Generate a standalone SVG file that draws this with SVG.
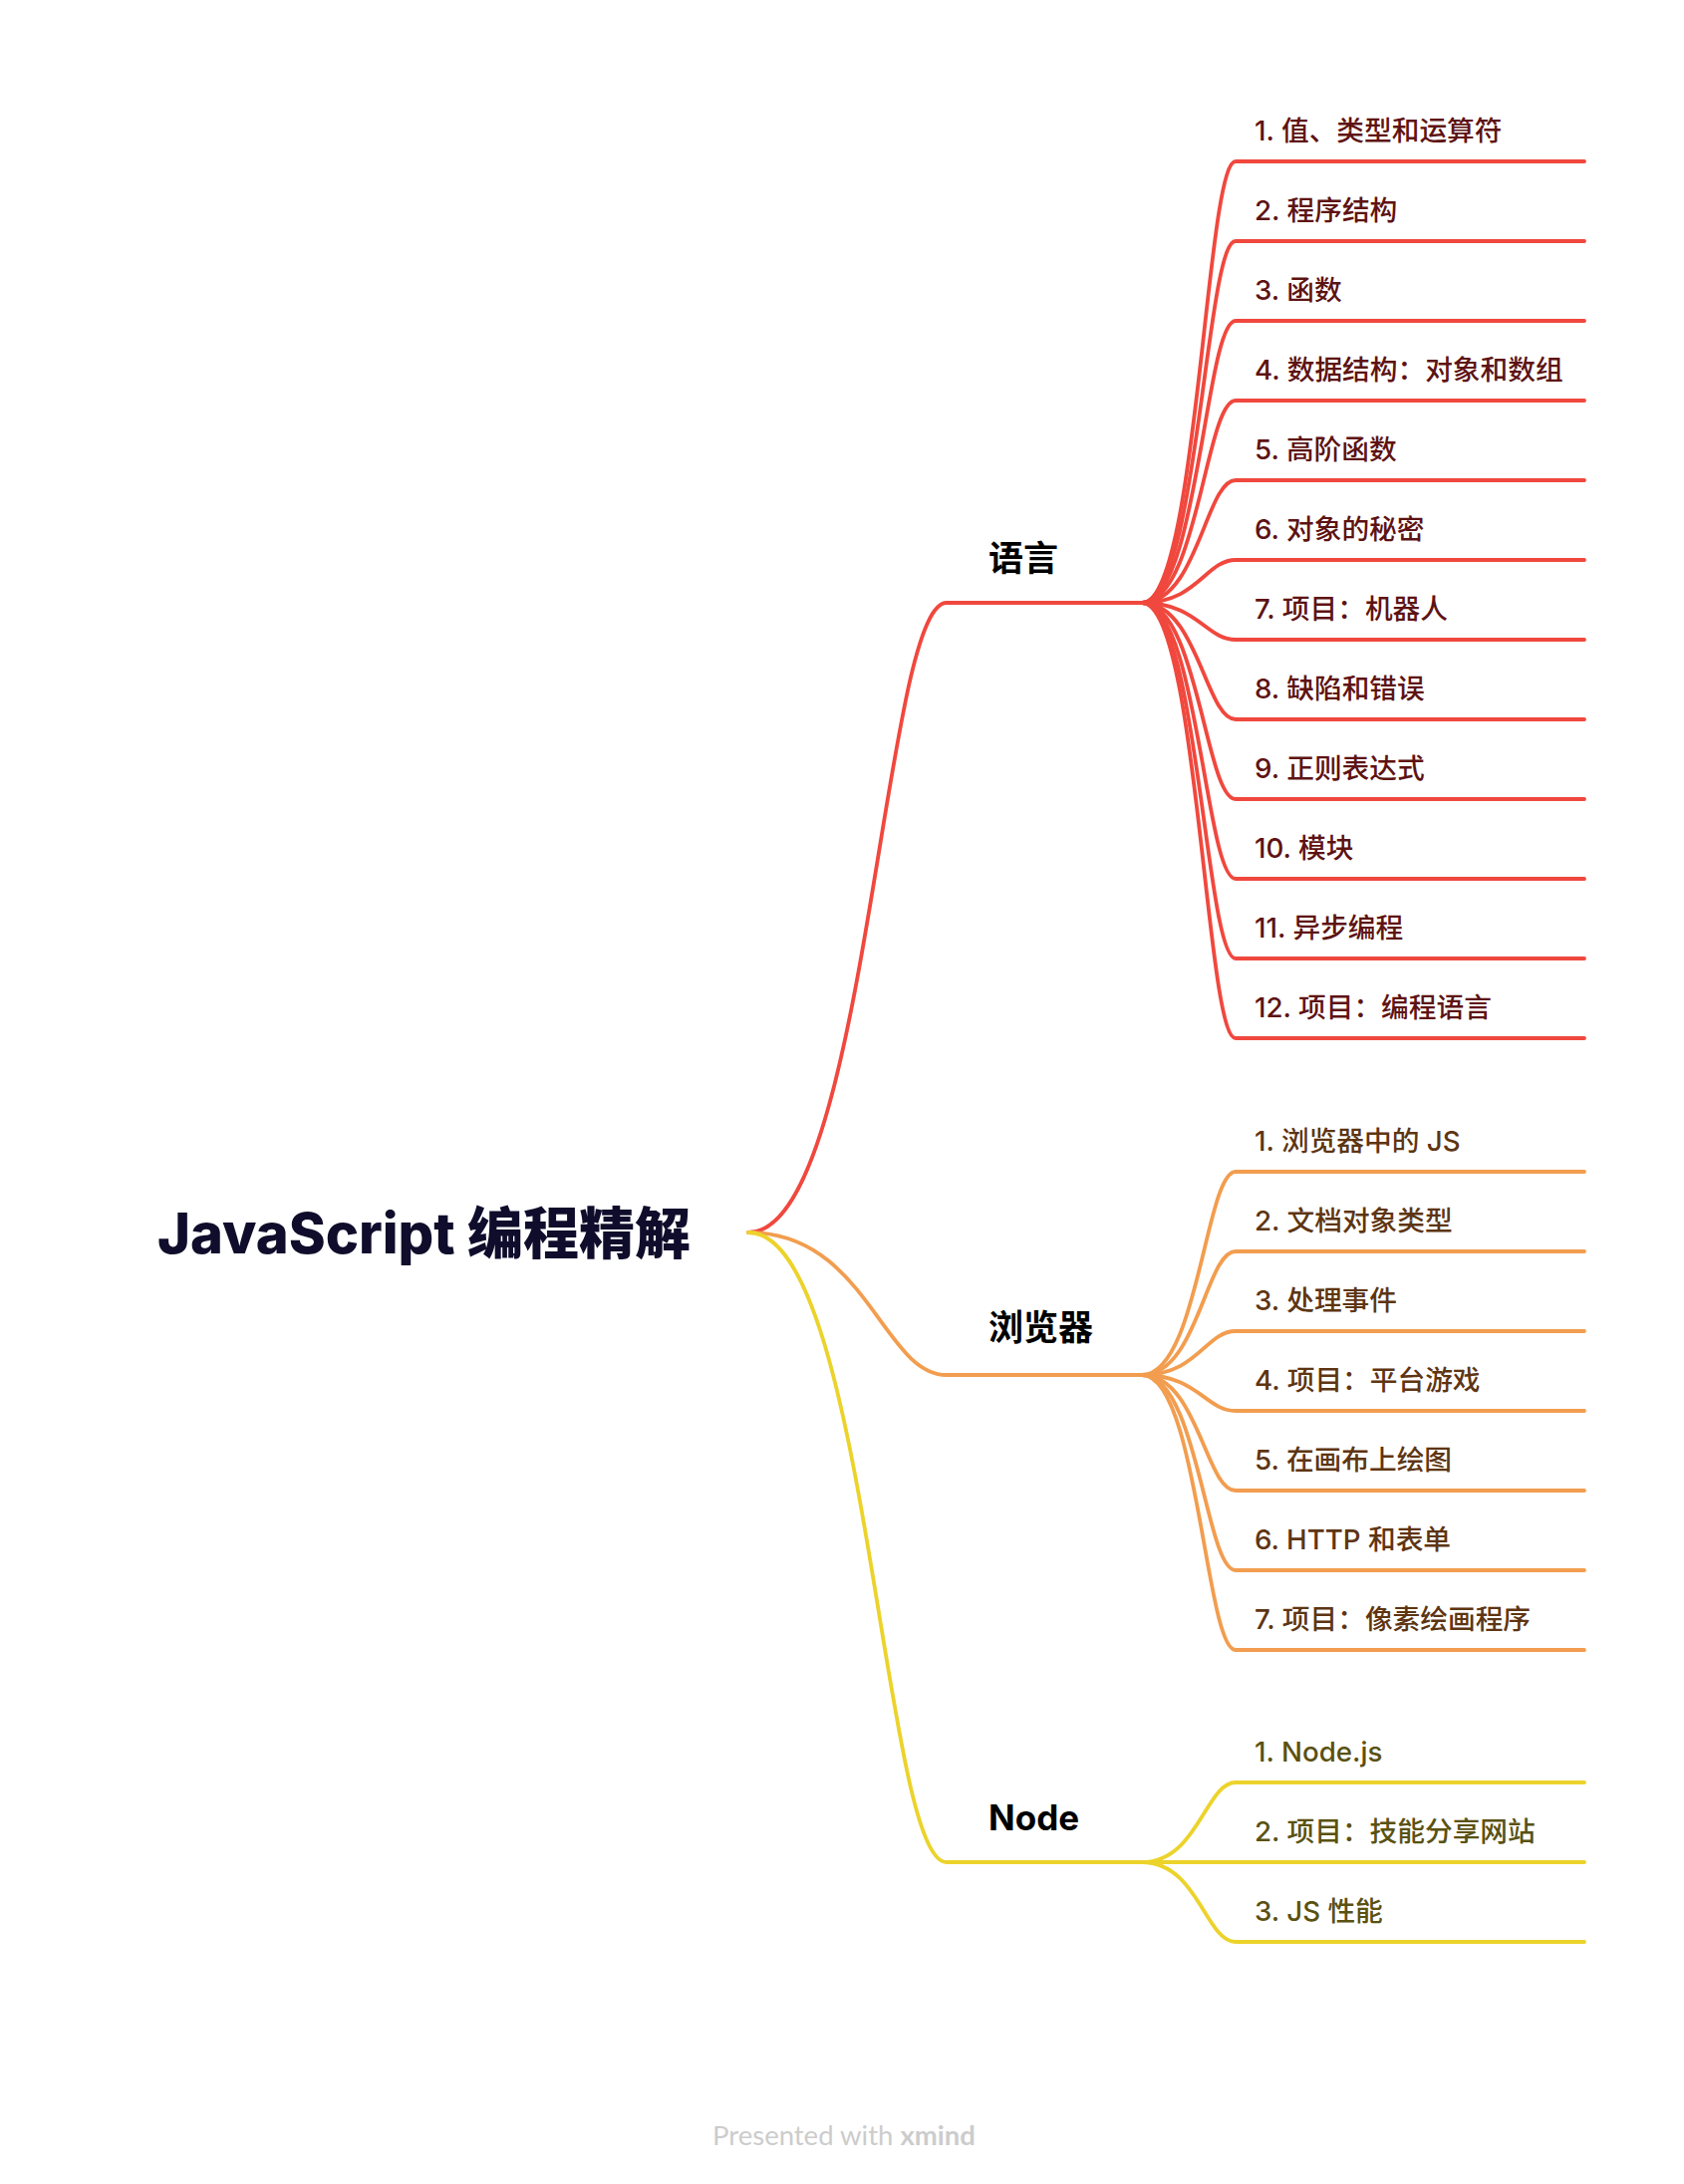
<svg xmlns="http://www.w3.org/2000/svg" width="1690" height="2192" viewBox="0 0 1690 2192">
<style>
text{font-family:"Inter","Noto Sans CJK SC",sans-serif}
.root{font-size:56px;font-weight:800;fill:#0f0d2b}
.br{font-size:35px;font-weight:700;fill:#000}
.lf{font-size:27.7px;font-weight:500}
.r{stroke:#f0483e}
.o{stroke:#f29d4f}
.y{stroke:#ecd32b}
.tr{fill:#5e1313}
.to{fill:#5e3512}
.ty{fill:#5a5112}
#connectors path{fill:none;stroke-width:3.8;stroke-linecap:round}
.wm{font-family:"Lato","Liberation Sans",sans-serif;font-size:27.5px;fill:#cccccc}
</style>
<rect width="1690" height="2192" fill="#ffffff"/>
<g id="connectors">
<path class="r" d="M751 1237 C870 1237 886 605 950 605 L1146 605"/>
<path class="o" d="M751 1237 C870 1237 886 1380 950 1380 L1146 1380"/>
<path class="y" d="M751 1237 C870 1237 886 1869 950 1869 L1146 1869"/>
<g id="lang-links">
<path class="r" d="M1146 605 C1202 605 1210 162 1240 162 L1590 162"/>
<path class="r" d="M1146 605 C1202 605 1210 242 1240 242 L1590 242"/>
<path class="r" d="M1146 605 C1202 605 1210 322 1240 322 L1590 322"/>
<path class="r" d="M1146 605 C1202 605 1210 402 1240 402 L1590 402"/>
<path class="r" d="M1146 605 C1202 605 1210 482 1240 482 L1590 482"/>
<path class="r" d="M1146 605 C1202 605 1210 562 1240 562 L1590 562"/>
<path class="r" d="M1146 605 C1202 605 1210 642 1240 642 L1590 642"/>
<path class="r" d="M1146 605 C1202 605 1210 722 1240 722 L1590 722"/>
<path class="r" d="M1146 605 C1202 605 1210 802 1240 802 L1590 802"/>
<path class="r" d="M1146 605 C1202 605 1210 882 1240 882 L1590 882"/>
<path class="r" d="M1146 605 C1202 605 1210 962 1240 962 L1590 962"/>
<path class="r" d="M1146 605 C1202 605 1210 1042 1240 1042 L1590 1042"/>
</g>
<g id="browser-links">
<path class="o" d="M1146 1380 C1202 1380 1210 1176 1240 1176 L1590 1176"/>
<path class="o" d="M1146 1380 C1202 1380 1210 1256 1240 1256 L1590 1256"/>
<path class="o" d="M1146 1380 C1202 1380 1210 1336 1240 1336 L1590 1336"/>
<path class="o" d="M1146 1380 C1202 1380 1210 1416 1240 1416 L1590 1416"/>
<path class="o" d="M1146 1380 C1202 1380 1210 1496 1240 1496 L1590 1496"/>
<path class="o" d="M1146 1380 C1202 1380 1210 1576 1240 1576 L1590 1576"/>
<path class="o" d="M1146 1380 C1202 1380 1210 1656 1240 1656 L1590 1656"/>
</g>
<g id="node-links">
<path class="y" d="M1146 1869 C1202 1869 1210 1789 1240 1789 L1590 1789"/>
<path class="y" d="M1146 1869 L1590 1869"/>
<path class="y" d="M1146 1869 C1202 1869 1210 1949 1240 1949 L1590 1949"/>
</g>
</g>
<g id="root"><text class="root" x="158" y="1258">JavaScript 编程精解</text></g>
<g id="b-lang"><text class="br" x="992" y="573">语言</text></g>
<g id="b-browser"><text class="br" x="992" y="1345">浏览器</text></g>
<g id="b-node"><text class="br" x="992" y="1837">Node</text></g>
<g id="lang-leaves">
<g id="l1"><text class="lf tr" x="1259" y="141">1. 值、类型和运算符</text></g>
<g id="l2"><text class="lf tr" x="1259" y="221">2. 程序结构</text></g>
<g id="l3"><text class="lf tr" x="1259" y="301">3. 函数</text></g>
<g id="l4"><text class="lf tr" x="1259" y="381">4. 数据结构：对象和数组</text></g>
<g id="l5"><text class="lf tr" x="1259" y="461">5. 高阶函数</text></g>
<g id="l6"><text class="lf tr" x="1259" y="541">6. 对象的秘密</text></g>
<g id="l7"><text class="lf tr" x="1259" y="621">7. 项目：机器人</text></g>
<g id="l8"><text class="lf tr" x="1259" y="701">8. 缺陷和错误</text></g>
<g id="l9"><text class="lf tr" x="1259" y="781">9. 正则表达式</text></g>
<g id="l10"><text class="lf tr" x="1259" y="861">10. 模块</text></g>
<g id="l11"><text class="lf tr" x="1259" y="941">11. 异步编程</text></g>
<g id="l12"><text class="lf tr" x="1259" y="1021">12. 项目：编程语言</text></g>
</g>
<g id="browser-leaves">
<g id="w1"><text class="lf to" x="1259" y="1155">1. 浏览器中的 JS</text></g>
<g id="w2"><text class="lf to" x="1259" y="1235">2. 文档对象类型</text></g>
<g id="w3"><text class="lf to" x="1259" y="1315">3. 处理事件</text></g>
<g id="w4"><text class="lf to" x="1259" y="1395">4. 项目：平台游戏</text></g>
<g id="w5"><text class="lf to" x="1259" y="1475">5. 在画布上绘图</text></g>
<g id="w6"><text class="lf to" x="1259" y="1555">6. HTTP 和表单</text></g>
<g id="w7"><text class="lf to" x="1259" y="1635">7. 项目：像素绘画程序</text></g>
</g>
<g id="node-leaves">
<g id="n1"><text class="lf ty" x="1259" y="1768">1. Node.js</text></g>
<g id="n2"><text class="lf ty" x="1259" y="1848">2. 项目：技能分享网站</text></g>
<g id="n3"><text class="lf ty" x="1259" y="1928">3. JS 性能</text></g>
</g>
<text class="wm" x="847" y="2153" text-anchor="middle">Presented with <tspan font-weight="700">xmind</tspan></text>
</svg>
